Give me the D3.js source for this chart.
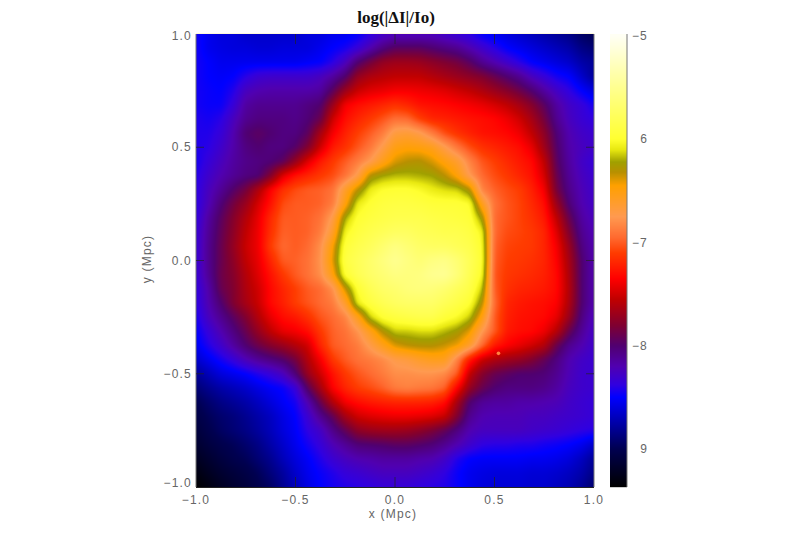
<!DOCTYPE html>
<html><head><meta charset="utf-8">
<script src="https://cdn.jsdelivr.net/npm/d3@7/dist/d3.min.js"></script>
<style>html,body{margin:0;padding:0;background:#fff;overflow:hidden}svg{display:block}</style>
</head><body>
<script>
const title = "log(|ΔI|/Io)";
const xLabel = "x (Mpc)";
const yLabel = "y (Mpc)";
const xTicks = [-1, -0.5, 0, 0.5, 1];
const yTicks = [-1, -0.5, 0, 0.5, 1];
const barTicks = [-5, -6, -7, -8, -9];
const barTickLabels = ["−5", "6", "−7", "−8", "9"];
const colorStops = [-9.37,-9.0,-8.75,-8.5,-8.38,-8.2,-8.0,-7.8,-7.55,-7.35,-7.1,-6.95,-6.75,-6.45,-6.32,-6.22,-6.1,-6.0,-5.5,-5.0];
const colorValues = ["#000000","#000050","#0000a8","#0000ff","#3000e0","#5000b0","#500070","#800030","#c00000","#ff0000","#ff3c00","#ff6a30","#ff9a50","#ffa000","#b89000","#a0a000","#e8e810","#ffff30","#ffff90","#fffff4"];
const spot = [{x: 0.52, y: -0.41, v: -6.85}];
const logIntensity = [
[-8.45,-8.55,-8.6,-8.6,-8.65,-8.65,-8.65,-8.65,-8.65,-8.6,-8.6,-8.55,-8.55,-8.5,-8.4,-8.3,-8.25,-8.25,-8.25,-8.25,-8.3,-8.35,-8.4,-8.5,-8.55,-8.6,-8.65,-8.7,-8.75,-8.8,-8.85,-8.95,-9.0],
[-8.45,-8.55,-8.58,-8.6,-8.6,-8.62,-8.62,-8.6,-8.6,-8.6,-8.55,-8.5,-8.45,-8.35,-8.2,-8.05,-7.95,-7.95,-7.95,-8.0,-8.05,-8.1,-8.2,-8.3,-8.4,-8.5,-8.55,-8.6,-8.65,-8.7,-8.75,-8.85,-8.9],
[-8.45,-8.5,-8.55,-8.55,-8.55,-8.55,-8.55,-8.55,-8.55,-8.52,-8.5,-8.4,-8.25,-8.0,-7.85,-7.72,-7.68,-7.68,-7.7,-7.75,-7.8,-7.85,-7.95,-8.1,-8.2,-8.3,-8.4,-8.5,-8.55,-8.6,-8.65,-8.75,-8.8],
[-8.45,-8.5,-8.52,-8.5,-8.4,-8.32,-8.3,-8.3,-8.3,-8.3,-8.25,-8.15,-8.0,-7.72,-7.62,-7.58,-7.55,-7.55,-7.55,-7.6,-7.65,-7.7,-7.75,-7.8,-7.9,-8.0,-8.1,-8.25,-8.35,-8.45,-8.5,-8.65,-8.8],
[-8.45,-8.48,-8.5,-8.42,-8.25,-8.2,-8.18,-8.18,-8.18,-8.18,-8.15,-7.95,-7.7,-7.52,-7.45,-7.42,-7.38,-7.38,-7.4,-7.42,-7.45,-7.5,-7.55,-7.62,-7.7,-7.78,-7.88,-8.0,-8.15,-8.28,-8.38,-8.5,-8.6],
[-8.45,-8.48,-8.48,-8.35,-8.15,-8.1,-8.1,-8.1,-8.1,-8.05,-8.0,-7.7,-7.38,-7.3,-7.25,-7.2,-7.15,-7.2,-7.28,-7.3,-7.32,-7.35,-7.38,-7.42,-7.48,-7.55,-7.65,-7.78,-7.95,-8.15,-8.28,-8.35,-8.45],
[-8.42,-8.45,-8.4,-8.25,-8.1,-8.05,-8.05,-8.05,-8.08,-8.02,-7.9,-7.5,-7.3,-7.2,-7.12,-7.03,-6.93,-6.95,-7.1,-7.2,-7.22,-7.25,-7.28,-7.3,-7.33,-7.4,-7.5,-7.65,-7.85,-8.1,-8.25,-8.33,-8.38],
[-8.42,-8.42,-8.35,-8.2,-8.0,-7.95,-8.0,-8.05,-8.05,-7.95,-7.65,-7.38,-7.22,-7.1,-7.0,-6.88,-6.68,-6.65,-6.72,-6.88,-7.05,-7.15,-7.22,-7.28,-7.3,-7.33,-7.4,-7.55,-7.75,-8.02,-8.2,-8.28,-8.32],
[-8.42,-8.4,-8.3,-8.18,-8.05,-8.0,-8.05,-8.05,-7.98,-7.8,-7.5,-7.25,-7.15,-7.02,-6.9,-6.72,-6.52,-6.48,-6.5,-6.55,-6.72,-6.9,-7.05,-7.15,-7.2,-7.25,-7.3,-7.42,-7.68,-7.98,-8.18,-8.25,-8.3],
[-8.45,-8.35,-8.25,-8.15,-8.08,-8.05,-8.02,-7.95,-7.72,-7.45,-7.25,-7.12,-7.0,-6.88,-6.75,-6.55,-6.38,-6.32,-6.3,-6.38,-6.5,-6.62,-6.85,-7.02,-7.1,-7.18,-7.25,-7.32,-7.55,-7.95,-8.15,-8.28,-8.35],
[-8.42,-8.3,-8.2,-8.12,-8.05,-8.02,-7.8,-7.45,-7.28,-7.2,-7.12,-7.05,-6.92,-6.72,-6.3,-6.22,-6.18,-6.18,-6.2,-6.22,-6.32,-6.48,-6.75,-6.95,-7.05,-7.12,-7.2,-7.28,-7.48,-7.9,-8.12,-8.25,-8.32],
[-8.4,-8.25,-8.12,-7.98,-7.85,-7.62,-7.35,-7.15,-7.05,-7.0,-6.98,-6.92,-6.6,-6.32,-6.08,-6.0,-5.98,-5.98,-6.02,-6.08,-6.12,-6.14,-6.3,-6.85,-6.98,-7.05,-7.1,-7.22,-7.38,-7.85,-8.08,-8.22,-8.3],
[-8.4,-8.22,-8.02,-7.85,-7.7,-7.48,-7.28,-7.05,-7.0,-7.0,-6.98,-6.88,-6.5,-6.08,-5.98,-5.92,-5.9,-5.9,-5.92,-5.95,-5.96,-5.96,-6.0,-6.55,-6.92,-7.02,-7.08,-7.18,-7.3,-7.7,-8.02,-8.2,-8.28],
[-8.38,-8.15,-7.95,-7.78,-7.6,-7.42,-7.18,-7.0,-7.0,-6.98,-6.92,-6.72,-6.2,-5.98,-5.92,-5.88,-5.85,-5.85,-5.85,-5.88,-5.9,-5.92,-5.95,-6.25,-6.95,-7.02,-7.08,-7.15,-7.25,-7.55,-7.9,-8.15,-8.25],
[-8.35,-8.12,-7.92,-7.75,-7.55,-7.4,-7.15,-6.98,-7.0,-6.98,-6.88,-6.62,-6.05,-5.92,-5.85,-5.8,-5.75,-5.75,-5.8,-5.82,-5.85,-5.85,-5.9,-6.05,-6.95,-7.05,-7.08,-7.12,-7.2,-7.45,-7.8,-8.1,-8.22],
[-8.35,-8.1,-7.9,-7.72,-7.52,-7.4,-7.1,-6.95,-7.0,-6.95,-6.8,-6.45,-5.95,-5.85,-5.78,-5.68,-5.58,-5.65,-5.72,-5.75,-5.75,-5.8,-5.85,-6.0,-6.98,-7.08,-7.1,-7.12,-7.2,-7.38,-7.7,-8.05,-8.2],
[-8.35,-8.1,-7.9,-7.75,-7.55,-7.42,-7.2,-7.0,-6.98,-6.92,-6.78,-6.4,-5.9,-5.8,-5.7,-5.6,-5.5,-5.58,-5.65,-5.58,-5.55,-5.65,-5.8,-5.98,-7.0,-7.1,-7.12,-7.15,-7.2,-7.35,-7.65,-8.0,-8.2],
[-8.35,-8.12,-7.88,-7.78,-7.6,-7.45,-7.28,-7.12,-7.0,-6.92,-6.8,-6.5,-5.98,-5.82,-5.72,-5.65,-5.58,-5.6,-5.58,-5.5,-5.48,-5.62,-5.82,-6.02,-7.02,-7.12,-7.15,-7.18,-7.22,-7.32,-7.62,-8.0,-8.2],
[-8.38,-8.18,-7.9,-7.8,-7.62,-7.5,-7.32,-7.2,-7.1,-7.0,-6.95,-6.8,-6.35,-5.98,-5.82,-5.72,-5.68,-5.62,-5.6,-5.62,-5.68,-5.78,-5.88,-6.15,-7.0,-7.15,-7.2,-7.22,-7.25,-7.32,-7.6,-8.0,-8.2],
[-8.4,-8.2,-8.0,-7.8,-7.65,-7.52,-7.32,-7.22,-7.1,-7.02,-6.95,-6.88,-6.62,-6.08,-5.92,-5.82,-5.75,-5.72,-5.72,-5.72,-5.8,-5.88,-5.98,-6.3,-6.95,-7.2,-7.25,-7.28,-7.3,-7.35,-7.62,-8.0,-8.2],
[-8.45,-8.25,-8.1,-7.95,-7.8,-7.6,-7.42,-7.3,-7.25,-7.15,-7.02,-6.95,-6.85,-6.55,-6.15,-5.98,-5.92,-5.88,-5.85,-5.85,-5.95,-6.02,-6.15,-6.5,-7.0,-7.22,-7.28,-7.3,-7.32,-7.42,-7.7,-8.05,-8.25],
[-8.5,-8.35,-8.2,-8.05,-7.9,-7.72,-7.55,-7.42,-7.38,-7.3,-7.12,-6.98,-6.92,-6.78,-6.55,-6.3,-6.15,-6.15,-6.12,-6.12,-6.18,-6.25,-6.4,-6.75,-7.0,-7.25,-7.3,-7.32,-7.4,-7.58,-7.9,-8.12,-8.28],
[-8.55,-8.42,-8.3,-8.15,-8.0,-7.88,-7.78,-7.7,-7.6,-7.5,-7.2,-7.0,-6.95,-6.88,-6.72,-6.55,-6.38,-6.32,-6.3,-6.3,-6.35,-6.42,-6.6,-6.95,-7.25,-7.35,-7.42,-7.5,-7.6,-7.9,-8.1,-8.2,-8.3],
[-8.65,-8.55,-8.45,-8.35,-8.22,-8.12,-8.05,-7.98,-7.85,-7.6,-7.38,-7.12,-7.0,-6.92,-6.88,-6.82,-6.72,-6.68,-6.6,-6.55,-6.55,-6.85,-7.25,-7.52,-7.62,-7.68,-7.72,-7.8,-7.92,-8.05,-8.2,-8.28,-8.32],
[-8.8,-8.7,-8.6,-8.55,-8.5,-8.42,-8.35,-8.25,-8.02,-7.7,-7.5,-7.28,-7.12,-7.02,-6.95,-6.88,-6.8,-6.8,-6.78,-6.78,-6.82,-7.0,-7.55,-7.78,-7.9,-7.95,-8.0,-8.0,-8.02,-8.1,-8.22,-8.3,-8.32],
[-8.9,-8.82,-8.75,-8.7,-8.65,-8.58,-8.52,-8.48,-8.35,-7.95,-7.65,-7.35,-7.2,-7.1,-7.05,-6.98,-6.88,-6.85,-6.88,-6.9,-6.98,-7.35,-7.72,-7.9,-8.0,-8.05,-8.05,-8.05,-8.08,-8.15,-8.25,-8.3,-8.32],
[-9.0,-8.92,-8.85,-8.8,-8.75,-8.68,-8.6,-8.52,-8.45,-8.2,-7.9,-7.6,-7.38,-7.3,-7.25,-7.22,-7.2,-7.2,-7.2,-7.22,-7.3,-7.65,-8.0,-8.12,-8.15,-8.15,-8.18,-8.18,-8.2,-8.22,-8.28,-8.32,-8.35],
[-9.05,-8.98,-8.92,-8.88,-8.82,-8.75,-8.68,-8.58,-8.5,-8.32,-8.1,-7.92,-7.65,-7.5,-7.45,-7.42,-7.4,-7.4,-7.42,-7.45,-7.52,-7.8,-8.1,-8.2,-8.22,-8.22,-8.22,-8.25,-8.25,-8.28,-8.3,-8.32,-8.35],
[-9.1,-9.02,-8.95,-8.9,-8.85,-8.78,-8.7,-8.6,-8.52,-8.38,-8.28,-8.08,-7.92,-7.75,-7.7,-7.68,-7.68,-7.7,-7.75,-7.82,-7.92,-8.05,-8.2,-8.25,-8.25,-8.25,-8.25,-8.28,-8.3,-8.32,-8.35,-8.38,-8.4],
[-9.15,-9.08,-9.02,-8.98,-8.92,-8.85,-8.75,-8.65,-8.55,-8.45,-8.35,-8.22,-8.12,-8.02,-8.0,-7.98,-7.95,-7.95,-7.98,-8.02,-8.1,-8.2,-8.3,-8.38,-8.4,-8.4,-8.42,-8.42,-8.45,-8.47,-8.5,-8.55,-8.65],
[-9.22,-9.15,-9.08,-9.02,-8.98,-8.9,-8.82,-8.7,-8.6,-8.52,-8.42,-8.32,-8.25,-8.2,-8.18,-8.15,-8.15,-8.15,-8.18,-8.2,-8.28,-8.42,-8.5,-8.52,-8.52,-8.52,-8.52,-8.54,-8.54,-8.56,-8.6,-8.68,-8.8],
[-9.3,-9.22,-9.15,-9.1,-9.05,-8.98,-8.88,-8.78,-8.65,-8.55,-8.48,-8.42,-8.35,-8.32,-8.28,-8.25,-8.25,-8.25,-8.28,-8.32,-8.38,-8.48,-8.55,-8.58,-8.6,-8.6,-8.6,-8.62,-8.62,-8.64,-8.68,-8.74,-8.85],
[-9.37,-9.3,-9.22,-9.15,-9.1,-9.02,-8.95,-8.82,-8.7,-8.58,-8.5,-8.45,-8.42,-8.4,-8.38,-8.35,-8.35,-8.35,-8.38,-8.4,-8.42,-8.48,-8.55,-8.6,-8.62,-8.62,-8.62,-8.64,-8.64,-8.68,-8.72,-8.8,-8.92]
];

const W = 800, H = 533;
const plot = {l: 196, r: 594, t: 34, b: 487};
const bar = {l: 610, r: 627};
const nRows = logIntensity.length, nCols = logIntensity[0].length;
logIntensity.forEach((r, i) => { if (r.length !== nCols) throw new Error("row " + i + " has " + r.length); });

const x = d3.scaleLinear().domain([-1, 1]).range([plot.l, plot.r]);
const y = d3.scaleLinear().domain([-1, 1]).range([plot.b, plot.t]);
const color = d3.scaleLinear().domain(colorStops).range(colorValues).interpolate(d3.interpolateRgb).clamp(true);
const barY = d3.scaleLinear().domain([-5, -9]).range([36, 449]);
const colIndex = d3.scaleLinear().domain([-1, 1]).range([0, nCols - 1]);
const rowIndex = d3.scaleLinear().domain([1, -1]).range([0, nRows - 1]);

function sample(dx, dy) {
  const cf = Math.max(0, Math.min(nCols - 1.0001, colIndex(dx)));
  const rf = Math.max(0, Math.min(nRows - 1.0001, rowIndex(dy)));
  const c = Math.floor(cf), r = Math.floor(rf), u = cf - c, v = rf - r;
  const a = logIntensity[r][c], b = logIntensity[r][c + 1], d = logIntensity[r + 1][c], e = logIntensity[r + 1][c + 1];
  return (a * (1 - u) + b * u) * (1 - v) + (d * (1 - u) + e * u) * v;
}

const pw = plot.r - plot.l, ph = plot.b - plot.t;
const field = new Float64Array(pw * ph);
for (let j = 0; j < ph; j++) for (let i = 0; i < pw; i++)
  field[j * pw + i] = sample(x.invert(plot.l + i + 0.5), y.invert(plot.t + j + 0.5));
d3.blur2({data: field, width: pw, height: ph}, 1.5);

const canvas = document.createElement("canvas");
canvas.width = pw; canvas.height = ph;
const ctx = canvas.getContext("2d");
const img = ctx.createImageData(pw, ph);
for (let k = 0; k < field.length; k++) {
  const c = d3.rgb(color(field[k]));
  img.data[k * 4] = c.r; img.data[k * 4 + 1] = c.g; img.data[k * 4 + 2] = c.b; img.data[k * 4 + 3] = 255;
}
ctx.putImageData(img, 0, 0);

const svg = d3.select("body").append("svg").attr("width", W).attr("height", H).attr("viewBox", [0, 0, W, H]);
svg.append("image").attr("x", plot.l).attr("y", plot.t).attr("width", pw).attr("height", ph)
  .attr("href", canvas.toDataURL("image/png"));

svg.append("g").selectAll("circle").data(spot).join("circle")
  .attr("cx", d => x(d.x)).attr("cy", d => y(d.y)).attr("r", 1.8).attr("fill", d => color(d.v));

// frame
const frame = svg.append("g").attr("fill", "none");
frame.append("line").attr("x1", plot.l).attr("x2", plot.l).attr("y1", plot.t).attr("y2", plot.b).attr("stroke", "#777");
frame.append("line").attr("x1", plot.r).attr("x2", plot.r).attr("y1", plot.t).attr("y2", plot.b).attr("stroke", "#777");
frame.append("line").attr("x1", plot.l).attr("x2", plot.r).attr("y1", plot.b + .5).attr("y2", plot.b + .5).attr("stroke", "#222");
frame.append("line").attr("x1", plot.l).attr("x2", plot.r).attr("y1", plot.t - .5).attr("y2", plot.t - .5).attr("stroke", "#fdf8dc");

// ticks
const tickG = svg.append("g").attr("stroke", "#222").attr("stroke-opacity", .7);
tickG.selectAll(".b").data(xTicks.slice(1, -1)).join("line").attr("x1", d => x(d)).attr("x2", d => x(d)).attr("y1", plot.b).attr("y2", plot.b - 10);
tickG.selectAll(".t").data(xTicks.slice(1, -1)).join("line").attr("x1", d => x(d)).attr("x2", d => x(d)).attr("y1", plot.t).attr("y2", plot.t + 10);
tickG.selectAll(".l").data(yTicks.slice(1, -1)).join("line").attr("y1", d => y(d)).attr("y2", d => y(d)).attr("x1", plot.l).attr("x2", plot.l + 8);
tickG.selectAll(".r").data(yTicks.slice(1, -1)).join("line").attr("y1", d => y(d)).attr("y2", d => y(d)).attr("x1", plot.r).attr("x2", plot.r - 8);

const labelStyle = s => s.attr("font-family", "'Liberation Sans', Arial, sans-serif").attr("font-size", 12).attr("fill", "#666").attr("letter-spacing", 1.2);
const fmt = d => (d < 0 ? "−" : "") + Math.abs(d).toFixed(1);

svg.append("g").call(labelStyle).attr("text-anchor", "middle").selectAll("text").data(xTicks).join("text")
  .attr("x", d => x(d)).attr("y", 504).text(fmt);
svg.append("g").call(labelStyle).attr("text-anchor", "end").selectAll("text").data(yTicks).join("text")
  .attr("x", 192).attr("y", d => d === 1 ? 40 : d === -1 ? 487 : y(d) + 4).text(fmt);
svg.append("text").call(labelStyle).attr("text-anchor", "middle").attr("x", 393).attr("y", 518).text(xLabel);
svg.append("text").call(labelStyle).attr("text-anchor", "middle").attr("transform", "translate(151,259) rotate(-90)").text(yLabel);
svg.append("text").attr("x", 396).attr("y", 23).attr("text-anchor", "middle")
  .attr("font-family", "'Liberation Serif', 'Times New Roman', serif").attr("font-weight", "bold").attr("font-size", 17).attr("fill", "#111").text(title);

// colour bar
const barVals = d3.range(plot.t, plot.b);
svg.append("g").selectAll("rect").data(barVals).join("rect")
  .attr("x", bar.l).attr("width", bar.r - bar.l).attr("y", d => d).attr("height", 1.2)
  .attr("fill", d => color(barY.invert(d + 0.5)));
svg.append("line").attr("x1", bar.r).attr("x2", bar.r).attr("y1", plot.t).attr("y2", plot.b).attr("stroke", "#777");
svg.append("g").call(labelStyle).attr("text-anchor", "end").selectAll("text").data(barTicks).join("text")
  .attr("x", 648).attr("y", d => barY(d) + 4).text((d, i) => barTickLabels[i]);
</script>
</body></html>
